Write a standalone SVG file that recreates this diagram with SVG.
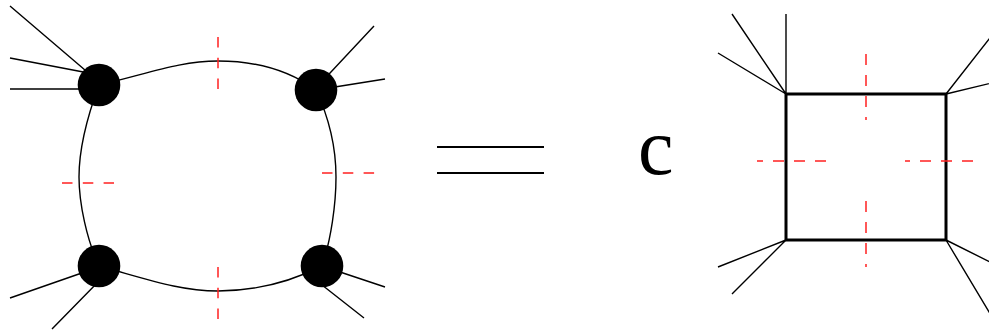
<svg xmlns="http://www.w3.org/2000/svg" width="989" height="330" viewBox="0 0 989 330">
<style>
.ln{stroke:#000;stroke-width:1.4;fill:none}
.cv{stroke:#000;stroke-width:1.4;fill:none}
.rd{stroke:#ff2020;stroke-width:1.5;fill:none;stroke-dasharray:11 10}
.rd2{stroke:#ff2020;stroke-width:1.5;fill:none;stroke-dasharray:10.5 10.3}
.nd{fill:#000}
.box{stroke:#000;stroke-width:3;fill:none}
.cst{font-family:"Liberation Serif","Times New Roman","DejaVu Serif",serif;font-size:80px;fill:#000}
</style>
<rect width="989" height="330" fill="#fff"/>
<g id="connectors">
<path class="cv" d="M99,85 C150,73 180,61 218,61 S290,71 316,90"/>
<path class="cv" d="M99,85 C86,120 79,150 79,177 S87,240 99,266"/>
<path class="cv" d="M316,90 C330,120 336,150 336,177 S331,240 322,266"/>
<path class="cv" d="M99,266 C150,280 180,291 218,291 S290,282 322,266"/>
<path class="ln" d="M10,6 L99,82 M10,58 L99,75 M10,89 L99,89"/>
<path class="ln" d="M374,26 L316,88 M385,79 L316,90"/>
<path class="ln" d="M10,298 L99,267 M52,329 L99,281"/>
<path class="ln" d="M385,287 L322,266 M364,318 L322,285"/>
</g>
<g id="cuts-left">
<path class="rd2" d="M218,37 V91"/>
<path class="rd2" d="M218,267 V319"/>
<path class="rd2" d="M62,183 H114"/>
<path class="rd2" d="M322,173 H375"/>
</g>
<g id="node-tl"><circle class="nd" cx="99" cy="85" r="21.3"/></g>
<g id="node-tr"><circle class="nd" cx="316" cy="90" r="21.3"/></g>
<g id="node-bl"><circle class="nd" cx="99" cy="266" r="21.3"/></g>
<g id="node-br"><circle class="nd" cx="322" cy="266" r="21.3"/></g>
<g id="equals">
<path d="M437,147 H544 M437,173 H544" stroke="#000" stroke-width="2.2" fill="none"/>
</g>
<g id="const">
<text class="cst" x="638" y="174">c</text>
</g>
<g id="box-diagram">
<path class="ln" d="M732,14 L786,94 M786,14 L786,94 M718,53 L786,94"/>
<path class="ln" d="M1000,25 L946,94 M1000,81 L946,94"/>
<path class="ln" d="M718,267 L786,240 M732,294 L786,240"/>
<path class="ln" d="M1000,267 L946,240 M992,317 L946,240"/>
<rect class="box" x="786" y="94" width="160" height="146"/>
<path class="rd" d="M866,54 V120"/>
<path class="rd" d="M866,201 V267"/>
<path class="rd" d="M826,161 H757"/>
<path class="rd" d="M973,161 H905"/>
</g>
</svg>
